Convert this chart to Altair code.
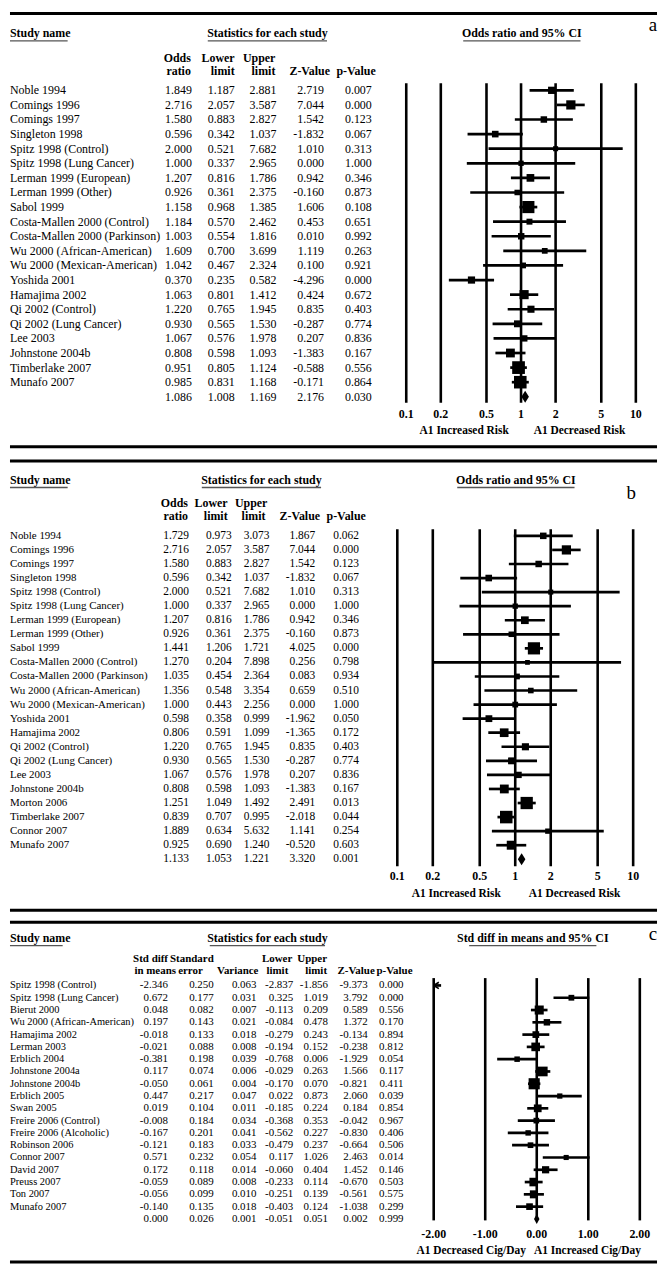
import math
import altair as alt
import pandas as pd

FONT = "Liberation Serif"
W = 651
SY = 0.987

# ---------------- data: panel a ----------------
a_names = ["Noble 1994", "Comings 1996", "Comings 1997", "Singleton 1998", "Spitz 1998 (Control)",
           "Spitz 1998 (Lung Cancer)", "Lerman 1999 (European)", "Lerman 1999 (Other)", "Sabol 1999",
           "Costa-Mallen 2000 (Control)", "Costa-Mallen 2000 (Parkinson)", "Wu 2000 (African-American)",
           "Wu 2000 (Mexican-American)", "Yoshida 2001", "Hamajima 2002", "Qi 2002 (Control)",
           "Qi 2002 (Lung Cancer)", "Lee 2003", "Johnstone 2004b", "Timberlake 2007", "Munafo 2007"]
a_or = [1.849, 2.716, 1.580, 0.596, 2.000, 1.000, 1.207, 0.926, 1.158, 1.184, 1.003, 1.609, 1.042,
        0.370, 1.063, 1.220, 0.930, 1.067, 0.808, 0.951, 0.985]
a_lo = [1.187, 2.057, 0.883, 0.342, 0.521, 0.337, 0.816, 0.361, 0.968, 0.570, 0.554, 0.700, 0.467,
        0.235, 0.801, 0.765, 0.565, 0.576, 0.598, 0.805, 0.831]
a_hi = [2.881, 3.587, 2.827, 1.037, 7.682, 2.965, 1.786, 2.375, 1.385, 2.462, 1.816, 3.699, 2.324,
        0.582, 1.412, 1.945, 1.530, 1.978, 1.093, 1.124, 1.168]
a_z = [2.719, 7.044, 1.542, -1.832, 1.010, 0.000, 0.942, -0.160, 1.606, 0.453, 0.010, 1.119, 0.100,
       -4.296, 0.424, 0.835, -0.287, 0.207, -1.383, -0.588, -0.171]
a_p = [0.007, 0.000, 0.123, 0.067, 0.313, 1.000, 0.346, 0.873, 0.108, 0.651, 0.992, 0.263, 0.921,
       0.000, 0.672, 0.403, 0.774, 0.836, 0.167, 0.556, 0.864]
a_pool = [1.086, 1.008, 1.169, 2.176, 0.030]

# ---------------- data: panel b ----------------
b_names = ["Noble 1994", "Comings 1996", "Comings 1997", "Singleton 1998", "Spitz 1998 (Control)",
           "Spitz 1998 (Lung Cancer)", "Lerman 1999 (European)", "Lerman 1999 (Other)", "Sabol 1999",
           "Costa-Mallen 2000 (Control)", "Costa-Mallen 2000 (Parkinson)", "Wu 2000 (African-American)",
           "Wu 2000 (Mexican-American)", "Yoshida 2001", "Hamajima 2002", "Qi 2002 (Control)",
           "Qi 2002 (Lung Cancer)", "Lee 2003", "Johnstone 2004b", "Morton 2006", "Timberlake 2007",
           "Connor 2007", "Munafo 2007"]
b_or = [1.729, 2.716, 1.580, 0.596, 2.000, 1.000, 1.207, 0.926, 1.441, 1.270, 1.035, 1.356, 1.000,
        0.598, 0.806, 1.220, 0.930, 1.067, 0.808, 1.251, 0.839, 1.889, 0.925]
b_lo = [0.973, 2.057, 0.883, 0.342, 0.521, 0.337, 0.816, 0.361, 1.206, 0.204, 0.454, 0.548, 0.443,
        0.358, 0.591, 0.765, 0.565, 0.576, 0.598, 1.049, 0.707, 0.634, 0.690]
b_hi = [3.073, 3.587, 2.827, 1.037, 7.682, 2.965, 1.786, 2.375, 1.721, 7.898, 2.364, 3.354, 2.256,
        0.999, 1.099, 1.945, 1.530, 1.978, 1.093, 1.492, 0.995, 5.632, 1.240]
b_z = [1.867, 7.044, 1.542, -1.832, 1.010, 0.000, 0.942, -0.160, 4.025, 0.256, 0.083, 0.659, 0.000,
       -1.962, -1.365, 0.835, -0.287, 0.207, -1.383, 2.491, -2.018, 1.141, -0.520]
b_p = [0.062, 0.000, 0.123, 0.067, 0.313, 1.000, 0.346, 0.873, 0.000, 0.798, 0.934, 0.510, 1.000,
       0.050, 0.172, 0.403, 0.774, 0.836, 0.167, 0.013, 0.044, 0.254, 0.603]
b_pool = [1.133, 1.053, 1.221, 3.320, 0.001]

# ---------------- data: panel c ----------------
c_names = ["Spitz 1998 (Control)", "Spitz 1998 (Lung Cancer)", "Bierut 2000", "Wu 2000 (African-American)",
           "Hamajima 2002", "Lerman 2003", "Erblich 2004", "Johnstone 2004a", "Johnstone 2004b",
           "Erblich 2005", "Swan 2005", "Freire 2006 (Control)", "Freire 2006 (Alcoholic)",
           "Robinson 2006", "Connor 2007", "David 2007", "Preuss 2007", "Ton 2007", "Munafo 2007"]
c_smd = [-2.346, 0.672, 0.048, 0.197, -0.018, -0.021, -0.381, 0.117, -0.050, 0.447, 0.019, -0.008,
         -0.167, -0.121, 0.571, 0.172, -0.059, -0.056, -0.140]
c_se = [0.250, 0.177, 0.082, 0.143, 0.133, 0.088, 0.198, 0.074, 0.061, 0.217, 0.104, 0.184, 0.201,
        0.183, 0.232, 0.118, 0.089, 0.099, 0.135]
c_var = [0.063, 0.031, 0.007, 0.021, 0.018, 0.008, 0.039, 0.006, 0.004, 0.047, 0.011, 0.034, 0.041,
         0.033, 0.054, 0.014, 0.008, 0.010, 0.018]
c_lo = [-2.837, 0.325, -0.113, -0.084, -0.279, -0.194, -0.768, -0.029, -0.170, 0.022, -0.185, -0.368,
        -0.562, -0.479, 0.117, -0.060, -0.233, -0.251, -0.403]
c_hi = [-1.856, 1.019, 0.209, 0.478, 0.243, 0.152, 0.006, 0.263, 0.070, 0.873, 0.224, 0.353, 0.227,
        0.237, 1.026, 0.404, 0.114, 0.139, 0.124]
c_z = [-9.373, 3.792, 0.589, 1.372, -0.134, -0.238, -1.929, 1.566, -0.821, 2.060, 0.184, -0.042,
       -0.830, -0.664, 2.463, 1.452, -0.670, -0.561, -1.038]
c_p = [0.000, 0.000, 0.556, 0.170, 0.894, 0.812, 0.054, 0.117, 0.411, 0.039, 0.854, 0.967, 0.406,
       0.506, 0.014, 0.146, 0.503, 0.575, 0.299]
c_pool = [0.000, 0.026, 0.001, -0.051, 0.051, 0.002, 0.999]

or_ticks = [0.1, 0.2, 0.5, 1, 2, 5, 10]
or_tick_labels = ["0.1", "0.2", "0.5", "1", "2", "5", "10"]
smd_ticks = [-2, -1, 0, 1, 2]
smd_tick_labels = ["-2.00", "-1.00", "0.00", "1.00", "2.00"]


# ---------------- helpers ----------------
def X(r):
    return round(max(0.0, r - 3), 2)


def ly(r, top):
    return round((r - top) * SY, 2)


ONE = pd.DataFrame({"k": [0]})


def label(txt, xr, yr, top, size=12, bold=True, align="left"):
    return alt.Chart(pd.DataFrame({"t": [txt]})).mark_text(
        font=FONT, fontSize=size, fontWeight="bold" if bold else "normal",
        align=align, baseline="middle", color="black"
    ).encode(x=alt.value(X(xr)), y=alt.value(ly(yr, top)), text="t:N")


def hline(x1, x2, y, width=3, color="black"):
    return alt.Chart(ONE).mark_rule(strokeWidth=width, color=color).encode(
        x=alt.value(x1), x2=alt.value(x2), y=alt.value(y))


def underline(x1r, x2r, yr, top):
    return hline(X(x1r), X(x2r), ly(yr, top), width=1.3, color="#555555")


def fmt(v):
    return f"{v:.3f}"


def build_df(names, cols, pooled):
    d = {"name": names + [""]}
    for (k, vals), pv in zip(cols.items(), pooled):
        d[k] = list(vals) + [pv]
    df = pd.DataFrame(d)
    df["row"] = range(len(df))
    df["pooled"] = [False] * len(names) + [True]
    for k in cols:
        df[k + "_s"] = df[k].map(fmt)
    return df


def table_layers(df, keys, rights, ysc, name_size, val_size):
    ly_ = [alt.Chart(df).mark_text(font=FONT, fontSize=name_size, align="left", baseline="middle",
                                   color="black").encode(
        x=alt.value(X(3)), y=alt.Y("row:Q", scale=ysc, axis=None), text="name:N")]
    for k, r in zip(keys, rights):
        ly_.append(alt.Chart(df).mark_text(font=FONT, fontSize=val_size, align="right",
                                           baseline="middle", color="black").encode(
            x=alt.value(X(r)), y=alt.Y("row:Q", scale=ysc, axis=None), text=f"{k}_s:N"))
    return ly_


def header_layers(hdrs, top, size=12):
    return [label(t, xr, yr, top, size=size, bold=True, align="right") for t, xr, yr in hdrs]


# ---------------- panel builder for odds-ratio panels ----------------
def or_panel(names, est, lo, hi, z, p, pool, top, bottom, geo):
    df = build_df(names, {"est": est, "lo": lo, "hi": hi, "z": z, "p": p}, pool)
    se = (df["hi"].map(math.log) - df["lo"].map(math.log)) / 3.92
    df["sz"] = (4 + 0.75 / se) ** 2
    studies = df[~df["pooled"]]
    pooled = df[df["pooled"]]
    n = len(df)
    ysc = alt.Scale(domain=[0, n - 1], range=[ly(geo["row0"], top), ly(geo["rowN"], top)],
                    nice=False, zero=False)
    xsc = alt.Scale(type="log", domain=[0.1, 10], range=[X(geo["x01"]), X(geo["x10"])], nice=False)
    ticks = pd.DataFrame({"t": or_ticks, "lab": or_tick_labels})

    layers = []
    layers.append(hline(0, W, ly(geo["top_line"], top)))
    layers.append(hline(0, W, ly(geo["bot_line"], top)))
    # headers
    layers.append(label("Study name", 2, geo["h1"], top))
    layers.append(underline(2, 61, geo["ul"], top))
    layers.append(label("Statistics for each study", geo["stat_c"], geo["h1"], top, align="center"))
    layers.append(underline(geo["stat_c"] - 60, geo["stat_c"] + 60, geo["ul"], top))
    layers.append(label("Odds ratio and 95% CI", geo["or_c"], geo["h1"], top, align="center"))
    layers.append(underline(geo["or_c"] - 59, geo["or_c"] + 59, geo["ul"], top))
    layers.append(label(geo["letter"], geo["let_x"], geo["let_y"], top, size=19, bold=False,
                        align="center"))
    layers += header_layers(geo["hdrs"], top)
    layers += table_layers(df, ["est", "lo", "hi", "z", "p"], geo["rights"], ysc,
                           geo["fs_name"], geo["fs_val"])
    # forest
    layers.append(alt.Chart(ticks).mark_rule(strokeWidth=2.6, color="black").encode(
        x=alt.X("t:Q", scale=xsc, axis=None),
        y=alt.value(ly(geo["g0"], top)), y2=alt.value(ly(geo["g1"], top))))
    layers.append(alt.Chart(ticks).mark_text(font=FONT, fontSize=12, fontWeight="bold",
                                             baseline="middle", color="black").encode(
        x=alt.X("t:Q", scale=xsc, axis=None), y=alt.value(ly(geo["tick_y"], top)), text="lab:N"))
    layers.append(alt.Chart(studies).mark_rule(strokeWidth=2.7, color="black").encode(
        x=alt.X("lo:Q", scale=xsc, axis=None), x2="hi:Q",
        y=alt.Y("row:Q", scale=ysc, axis=None)))
    layers.append(alt.Chart(studies).mark_point(shape="square", filled=True, opacity=1,
                                                color="black", strokeWidth=0).encode(
        x=alt.X("est:Q", scale=xsc, axis=None), y=alt.Y("row:Q", scale=ysc, axis=None),
        size=alt.Size("sz:Q", scale=None)))
    layers.append(alt.Chart(pooled).mark_point(shape="M0,-1L0.62,0L0,1L-0.62,0Z", filled=True,
                                               opacity=1, color="black", size=150,
                                               strokeWidth=0).encode(
        x=alt.X("est:Q", scale=xsc, axis=None), y=alt.Y("row:Q", scale=ysc, axis=None)))
    layers.append(label("A1 Increased Risk", geo["inc_c"], geo["risk_y"], top, size=11.5,
                        align="center"))
    layers.append(label("A1 Decreased Risk", geo["dec_c"], geo["risk_y"], top, size=11.5,
                        align="center"))
    return alt.layer(*layers).properties(width=W, height=ly(bottom, top))


geo_a = dict(top_line=1.7, bot_line=443.3, h1=21.5, ul=29.5, stat_c=262, or_c=518,
             letter="a", let_x=650, let_y=13, row0=80, rowN=392.4, x01=401.7, x10=632.7,
             g0=72.7, g1=398.5, tick_y=409.5, risk_y=427, inc_c=460, dec_c=576,
             fs_name=12, fs_val=12,
             rights=[186, 229, 271, 319, 367],
             hdrs=[("Odds", 185, 47), ("Lower", 229, 47), ("Upper", 270, 47),
                   ("ratio", 185, 60), ("limit", 229, 60), ("limit", 270, 60),
                   ("Z-Value", 325, 60), ("p-Value", 371, 60)])
geo_b = dict(top_line=457, bot_line=915, h1=476, ul=484, stat_c=256, or_c=512,
             letter="b", let_x=628, let_y=490, row0=533.3, rowN=863, x01=392.7, x10=630,
             g0=526.5, g1=870, tick_y=880.5, risk_y=898, inc_c=452, dec_c=571,
             fs_name=11, fs_val=11.5,
             rights=[183, 226, 264, 310, 354],
             hdrs=[("Odds", 182, 499.5), ("Lower", 222, 499.5), ("Upper", 262, 499.5),
                   ("ratio", 182, 513), ("limit", 222, 513), ("limit", 260, 513),
                   ("Z-Value", 315, 513), ("p-Value", 361, 513)])

panel_a = or_panel(a_names, a_or, a_lo, a_hi, a_z, a_p, a_pool, 0, 450, geo_a)
panel_b = or_panel(b_names, b_or, b_lo, b_hi, b_z, b_p, b_pool, 450, 921, geo_b)

# ---------------- panel c ----------------
topc, botc = 921, 1276
dfc = build_df(c_names, {"est": c_smd, "se": c_se, "var": c_var, "lo": c_lo, "hi": c_hi,
                         "z": c_z, "p": c_p}, c_pool)
dfc["sz"] = (3 + 0.5 / dfc["se"]) ** 2
c_studies = dfc[~dfc["pooled"]]
c_pooled = dfc[dfc["pooled"]]
nc = len(dfc)
ysc_c = alt.Scale(domain=[0, nc - 1], range=[ly(991.5, topc), ly(1229.5, topc)], nice=False, zero=False)
xsc_c = alt.Scale(domain=[-2, 2], range=[X(429.3), X(636.7)], nice=False, zero=False)
c_ticks = pd.DataFrame({"t": smd_ticks, "lab": smd_tick_labels})

lc = []
lc.append(hline(0, W, ly(927, topc)))
lc.append(hline(0, W, ly(1273.5, topc)))
lc.append(label("Study name", 2, 943, topc))
lc.append(underline(2, 56, 951, topc))
lc.append(label("Statistics for each study", 262, 943, topc, align="center"))
lc.append(underline(204, 320, 951, topc))
lc.append(label("Std diff in means and 95% CI", 529, 943, topc, align="center"))
lc.append(underline(465, 593, 951, topc))
lc.append(label("c", 650, 939, topc, size=19, bold=False, align="center"))
lc += header_layers([("Std diff", 162, 965), ("Standard", 208, 965), ("Lower", 287, 965),
                     ("Upper", 322, 965), ("in means", 170, 976.5), ("error", 197, 976.5),
                     ("Variance", 253, 976.5), ("limit", 283, 976.5), ("limit", 322, 976.5),
                     ("Z-Value", 370, 976.5), ("p-Value", 408, 976.5)], topc, size=11)
lc += table_layers(dfc, ["est", "se", "var", "lo", "hi", "z", "p"],
                   [162, 208, 251, 288, 323, 363, 399], ysc_c, 10.5, 11)
lc.append(alt.Chart(c_ticks).mark_rule(strokeWidth=2.6, color="black").encode(
    x=alt.X("t:Q", scale=xsc_c, axis=None),
    y=alt.value(ly(984, topc)), y2=alt.value(ly(1231, topc))))
lc.append(alt.Chart(c_ticks).mark_text(font=FONT, fontSize=12, fontWeight="bold",
                                       baseline="middle", color="black").encode(
    x=alt.X("t:Q", scale=xsc_c, axis=None), y=alt.value(ly(1245, topc)), text="lab:N"))
lc.append(alt.Chart(c_studies).transform_calculate(
    loc="max(datum.lo, -2)").mark_rule(strokeWidth=2.7, color="black").encode(
    x=alt.X("loc:Q", scale=xsc_c, axis=None), x2="hi:Q",
    y=alt.Y("row:Q", scale=ysc_c, axis=None)))
lc.append(alt.Chart(c_studies).transform_filter("datum.lo < -2").transform_calculate(
    xa="max(datum.lo, -2)").mark_point(shape="M0,0L1.3,-0.8M0,0L1.3,0.8", filled=False,
                                       color="black", strokeWidth=1.6, size=64, opacity=1).encode(
    x=alt.X("xa:Q", scale=xsc_c, axis=None), y=alt.Y("row:Q", scale=ysc_c, axis=None)))
lc.append(alt.Chart(c_studies).transform_filter("datum.est >= -2").mark_point(
    shape="square", filled=True, opacity=1, color="black", strokeWidth=0).encode(
    x=alt.X("est:Q", scale=xsc_c, axis=None), y=alt.Y("row:Q", scale=ysc_c, axis=None),
    size=alt.Size("sz:Q", scale=None)))
lc.append(alt.Chart(c_pooled).mark_point(shape="M0,-1L0.55,0L0,1L-0.55,0Z", filled=True, opacity=1,
                                         color="black", size=100, strokeWidth=0).encode(
    x=alt.X("est:Q", scale=xsc_c, axis=None), y=alt.Y("row:Q", scale=ysc_c, axis=None)))
lc.append(label("A1 Decreased Cig/Day", 467, 1262, topc, size=11.5, align="center"))
lc.append(label("A1 Increased Cig/Day", 584, 1262, topc, size=11.5, align="center"))
panel_c = alt.layer(*lc).properties(width=W, height=ly(botc, topc))

chart = alt.vconcat(panel_a, panel_b, panel_c, spacing=0).properties(
    padding=0, background="white"
).configure_view(stroke=None)

chart.save("out.html", embed_options={"renderer": "svg", "actions": False})
